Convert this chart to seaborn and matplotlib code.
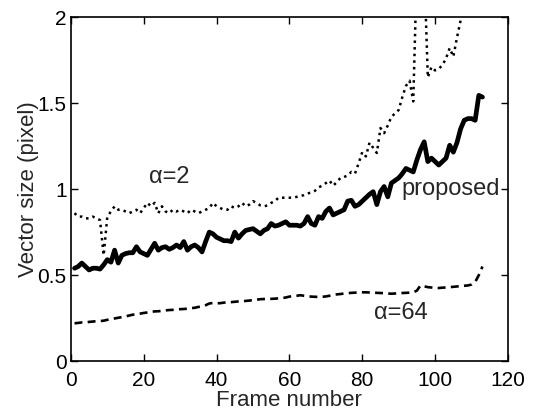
import numpy as np
import pandas as pd
import matplotlib
matplotlib.use("Agg")
import matplotlib.pyplot as plt
import seaborn as sns

# %% datos (frame 1..113)

frames = np.arange(1, 114)

proposed = [0.54, 0.55, 0.57, 0.55, 0.53, 0.54, 0.54, 0.535, 0.56, 0.59,
            0.575, 0.645, 0.57, 0.615, 0.625, 0.63, 0.63, 0.665, 0.635, 0.625,
            0.615, 0.65, 0.685, 0.645, 0.66, 0.665, 0.65, 0.66, 0.675, 0.66,
            0.695, 0.645, 0.665, 0.675, 0.66, 0.635, 0.695, 0.75, 0.74, 0.72,
            0.71, 0.70, 0.70, 0.695, 0.75, 0.715, 0.74, 0.76, 0.765, 0.77,
            0.755, 0.74, 0.76, 0.77, 0.80, 0.785, 0.79, 0.80, 0.81, 0.79,
            0.79, 0.79, 0.785, 0.80, 0.84, 0.80, 0.79, 0.84, 0.83, 0.87,
            0.89, 0.85, 0.86, 0.87, 0.88, 0.93, 0.935, 0.90, 0.91, 0.93,
            0.95, 0.97, 0.985, 0.91, 0.985, 1.015, 0.955, 1.035, 1.05, 1.065,
            1.09, 1.12, 1.11, 1.10, 1.17, 1.23, 1.275, 1.16, 1.18, 1.16,
            1.14, 1.16, 1.18, 1.255, 1.215, 1.27, 1.35, 1.40, 1.41, 1.41,
            1.40, 1.545, 1.535]

alpha2 = [0.86, 0.84, 0.84, 0.83, 0.83, 0.84, 0.83, 0.82, 0.615, 0.84,
          0.87, 0.90, 0.88, 0.88, 0.87, 0.86, 0.87, 0.88, 0.86, 0.89,
          0.92, 0.90, 0.92, 0.86, 0.90, 0.87, 0.86, 0.88, 0.87, 0.88,
          0.87, 0.86, 0.88, 0.87, 0.86, 0.87, 0.88, 0.89, 0.92, 0.90,
          0.89, 0.88, 0.88, 0.90, 0.89, 0.90, 0.92, 0.90, 0.91, 0.93,
          0.92, 0.905, 0.90, 0.905, 0.92, 0.93, 0.95, 0.95, 0.95, 0.95,
          0.95, 0.955, 0.96, 0.965, 0.975, 0.98, 0.99, 1.01, 1.02, 1.035,
          1.05, 1.02, 1.04, 1.065, 1.07, 1.08, 1.10, 1.09, 1.15, 1.215,
          1.19, 1.27, 1.24, 1.21, 1.355, 1.325, 1.37, 1.42, 1.44, 1.46,
          1.535, 1.60, 1.63, 1.51, 2.3, 2.4, 2.3, 1.65, 1.71, 1.69,
          1.70, 1.72, 1.76, 1.82, 1.77, 1.88, 1.98, 2.08, 2.2, 2.3,
          2.4, 2.5, 2.6]

alpha64 = [0.22, 0.222, 0.225, 0.225, 0.228, 0.23, 0.232, 0.233, 0.235, 0.24,
           0.243, 0.248, 0.252, 0.256, 0.26, 0.265, 0.27, 0.273, 0.276, 0.28,
           0.283, 0.287, 0.289, 0.29, 0.292, 0.295, 0.297, 0.298, 0.30, 0.302,
           0.303, 0.305, 0.308, 0.31, 0.315, 0.318, 0.325, 0.335, 0.338, 0.336,
           0.337, 0.34, 0.342, 0.343, 0.345, 0.347, 0.348, 0.35, 0.352, 0.355,
           0.357, 0.36, 0.361, 0.362, 0.362, 0.363, 0.365, 0.366, 0.37, 0.375,
           0.378, 0.38, 0.383, 0.38, 0.377, 0.375, 0.374, 0.373, 0.374, 0.376,
           0.38, 0.385, 0.388, 0.39, 0.393, 0.395, 0.397, 0.398, 0.40, 0.40,
           0.40, 0.399, 0.398, 0.397, 0.396, 0.395, 0.393, 0.392, 0.393, 0.395,
           0.396, 0.397, 0.398, 0.40, 0.41, 0.44, 0.435, 0.43, 0.428, 0.425,
           0.425, 0.427, 0.428, 0.43, 0.432, 0.434, 0.436, 0.438, 0.44, 0.445,
           0.46, 0.50, 0.55]

xticks = [0, 20, 40, 60, 80, 100, 120]
yticks = [0, 0.5, 1, 1.5, 2]
yticklabels = ["0", "0.5", "1", "1.5", "2"]

# %% grafico

sns.set_style("ticks")
plt.rcParams['font.family'] = ['Liberation Sans', 'DejaVu Sans']

fig = plt.figure(figsize=(5.33, 4.17), dpi=100)
ax = fig.add_axes([0.133, 0.134, 0.820, 0.825])

sns.lineplot(x=frames, y=alpha2, ax=ax, color='k', linestyle=':', linewidth=1.8)
sns.lineplot(x=frames, y=proposed, ax=ax, color='k', linestyle='-', linewidth=3.4)
sns.lineplot(x=frames, y=alpha64, ax=ax, color='k', linestyle=(0, (3, 2)), linewidth=1.9)

ax.text(27, 1.07, "α=2", fontsize=17, ha='center', va='center')
ax.text(117.8, 1.0, "proposed", fontsize=17, ha='right', va='center')
ax.text(90.5, 0.28, "α=64", fontsize=17, ha='center', va='center')

ax.set_xlim(0, 120)
ax.set_ylim(0, 2)
ax.set_xticks(xticks)
ax.set_yticks(yticks)
ax.set_yticklabels(yticklabels)
ax.tick_params(direction='in', top=True, right=True, length=5, width=1,
               labelsize=15, colors='k')
ax.tick_params(axis='x', pad=7)
ax.tick_params(axis='y', pad=3)
for s in ax.spines.values():
    s.set_visible(True)
    s.set_linewidth(1.2)
    s.set_color('k')

ax.set_xlabel("Frame number", fontsize=16, labelpad=0)
ax.set_ylabel("Vector size (pixel)", fontsize=16, labelpad=-1)

fig.savefig("out.png", dpi=100)
